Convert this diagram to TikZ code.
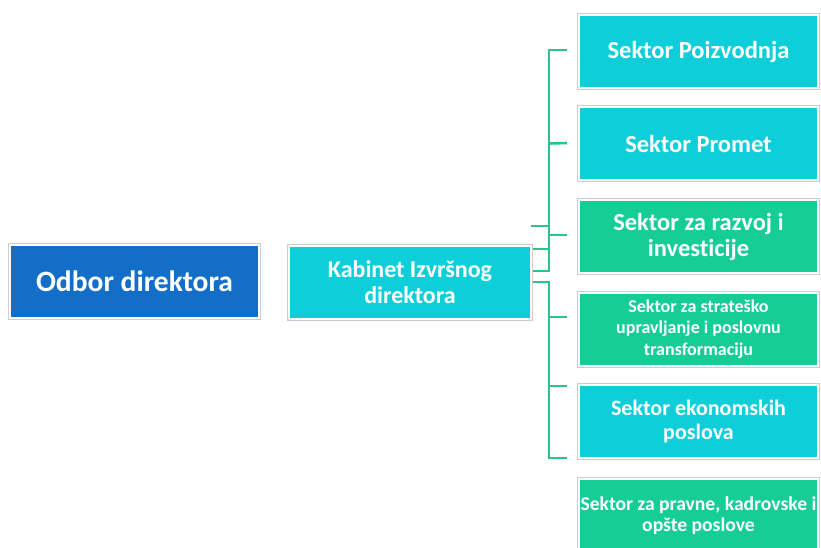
\documentclass[tikz,border=0pt]{standalone}
\usepackage{fontspec}
\setmainfont{Carlito}[Ligatures=NoCommon]
\usetikzlibrary{calc}
\definecolor{boardblue}{RGB}{18,110,198}
\definecolor{boxcyan}{RGB}{14,207,217}
\definecolor{boxgreen}{RGB}{22,205,150}
\definecolor{linegreen}{RGB}{36,198,138}
\definecolor{framegray}{RGB}{205,205,205}
\tikzset{
  orgbox/.style={rectangle, draw=white, line width=2pt, outer sep=2pt,
    preaction={draw=framegray, line width=4pt},
    text=white, font=\bfseries, align=center, inner sep=0pt},
  leftbox/.style={orgbox, minimum width=249pt, minimum height=73pt},
  midbox/.style={orgbox, minimum width=242pt, minimum height=73pt},
  rightbox/.style={orgbox, minimum width=239pt, minimum height=73pt},
  conn/.style={draw=linegreen, line width=2.6pt, line cap=butt}
}
\begin{document}
\begin{tikzpicture}[x=1pt,y=-1pt]
\useasboundingbox (0,0) rectangle (821,547);
\clip (0,0) rectangle (821,547);
\fill[white] (0,0) rectangle (821,547);
% nodes
\node[leftbox, fill=boardblue, font=\bfseries\fontsize{29.5}{34}\selectfont] (odbor) at (134.5,281.5) {Odbor direktora};
\node[midbox, fill=boxcyan, font=\bfseries\fontsize{24}{26}\selectfont] (kab) at (410,282.5) {Kabinet Izvršnog\\direktora};
\node[rightbox, fill=boxcyan, font=\bfseries\fontsize{24.5}{26}\selectfont] (s1) at (698.5,51.5) {Sektor Poizvodnja};
\node[rightbox, fill=boxcyan, font=\bfseries\fontsize{24.5}{26}\selectfont] (s2) at (698.5,143.5) {Sektor Promet};
\node[rightbox, fill=boxgreen, font=\bfseries\fontsize{24.5}{26}\selectfont] (s3) at (698.5,236.5) {Sektor za razvoj i\\investicije};
\node[rightbox, fill=boxgreen, font=\bfseries\fontsize{18}{21.5}\selectfont] (s4) at (698.5,329) {Sektor za strateško\\upravljanje i poslovnu\\transformaciju};
\node[rightbox, fill=boxcyan, font=\bfseries\fontsize{22}{24.5}\selectfont] (s5) at (698.5,421.5) {Sektor ekonomskih\\poslova};
\node[rightbox, fill=boxgreen, font=\bfseries\fontsize{19.6}{21.5}\selectfont] (s6) at (698.5,515.5) {Sektor za pravne, kadrovske i\\opšte poslove};
% bracket coordinates
\coordinate (uTop) at (549,50);
\coordinate (uBot) at (549,271);
\coordinate (uMid) at (549,249);
\coordinate (uStub) at (531,226);
\coordinate (lTop) at (549,282);
\coordinate (lBot) at (549,458);
% upper bracket
\draw[conn] ($(s1.west)+(-10,-1.5)$) -- (uTop) -- (uBot) -- (kab.east |- uBot);
\draw[conn] (uMid) -- (kab.east |- uMid);
\draw[conn] (uStub) -- (uStub -| uTop);
\draw[conn] ($(s2.west)+(-10,-0.5)$) -- (uTop |- s2.west);
\draw[conn] ($(s3.west)+(-10,-1.5)$) -- ($(uTop |- s3.west)+(0,-1.5)$);
% lower bracket
\draw[conn] (kab.east |- lTop) -- (lTop) -- (lBot) -- ($(s5.west |- lBot)+(-10,0)$);
\draw[conn] ($(s4.west)+(-10,-12)$) -- ($(uTop |- s4.west)+(0,-12)$);
\draw[conn] ($(s5.west)+(-10,-35.5)$) -- ($(uTop |- s5.west)+(0,-35.5)$);
\end{tikzpicture}
\end{document}
